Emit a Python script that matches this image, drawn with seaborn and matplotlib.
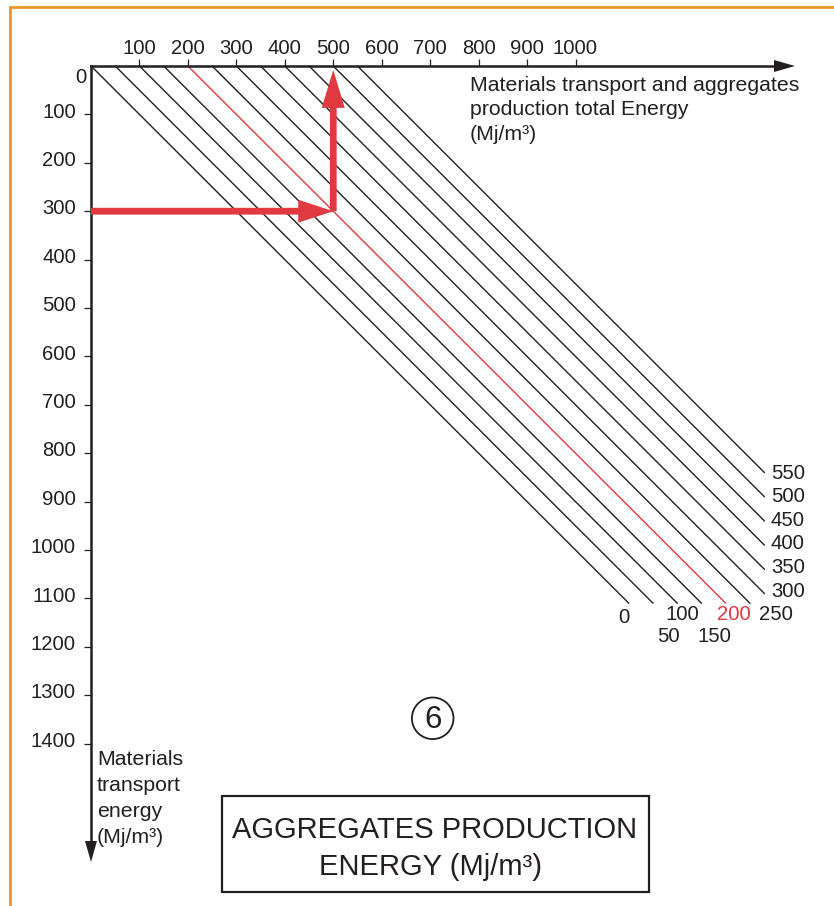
import numpy as np
import pandas as pd
import matplotlib
matplotlib.use("Agg")
import matplotlib.pyplot as plt
import matplotlib.transforms as mtransforms
from matplotlib.patches import Circle, Rectangle, Polygon
from matplotlib.lines import Line2D
import seaborn as sns

# ---------------- data ----------------
aggregate_energy = [0, 50, 100, 150, 200, 250, 300, 350, 400, 450, 500, 550]
highlight_aggregate = 200
total_ticks = [100, 200, 300, 400, 500, 600, 700, 800, 900, 1000]
transport_ticks = [100, 200, 300, 400, 500, 600, 700, 800, 900, 1000,
                   1100, 1200, 1300, 1400]
total_limit = 1390        # right limit of the nomogram lines
transport_limit = 1110    # lower limit of the nomogram lines
example_transport = 300
example_total = example_transport + highlight_aggregate

RED = "#E0393F"
BLACK = "#231F20"
ORANGE = "#E9962D"

sns.set_style("white")
plt.rcParams["font.family"] = ["Liberation Sans", "DejaVu Sans"]

W, H = 834, 906
fig = plt.figure(figsize=(W / 100, H / 100), dpi=100)
fig.patch.set_facecolor("white")
ax = fig.add_axes([0, 0, 1, 1])
ax.set_facecolor("white")

# pixel layout of the axes origin / scale
ox, oy = 91, 66
sx, sy = 0.4845, 0.4840
PT = 0.72  # px -> pt

# figure pixel transform (origin top-left)
pxT = mtransforms.Affine2D().scale(1 / W, -1 / H).translate(0, 1) + fig.transFigure

# ---------------- nomogram lines ----------------
rows = []
for a in aggregate_energy:
    y_end = min(transport_limit, total_limit - a)
    rows.append(dict(aggregate=a, total=a, transport=0))
    rows.append(dict(aggregate=a, total=a + y_end, transport=y_end))
df = pd.DataFrame(rows)
pal = {a: (RED if a == highlight_aggregate else BLACK) for a in aggregate_energy}
sns.lineplot(data=df, x="total", y="transport", hue="aggregate", units="aggregate",
             estimator=None, sort=False, palette=pal, legend=False,
             linewidth=1.0, ax=ax)

ax.set_xlim(-ox / sx, (W - ox) / sx)
ax.set_ylim((H - oy) / sy, -oy / sy)
ax.set_xlabel("")
ax.set_ylabel("")

# ---------------- axes (spines + ticks) ----------------
x_tip_px, y_tip_px = 795, 862
x_tip = (x_tip_px - ox) / sx
y_tip = (y_tip_px - oy) / sy
head_len_px = 21
for s in ["right", "bottom"]:
    ax.spines[s].set_visible(False)
ax.spines["top"].set_position(("data", 0))
ax.spines["left"].set_position(("data", 0))
ax.spines["top"].set_bounds(0, x_tip - head_len_px / sx)
ax.spines["left"].set_bounds(0, y_tip - head_len_px / sy)
for s in ["top", "left"]:
    ax.spines[s].set_linewidth(1.8)
    ax.spines[s].set_color(BLACK)
    ax.spines[s].set_capstyle("projecting")

ax.xaxis.set_ticks_position("top")
ax.yaxis.set_ticks_position("left")
ax.set_xticks(total_ticks)
ax.set_yticks(transport_ticks)
ax.tick_params(axis="x", direction="out", length=5, width=0.9, color=BLACK,
               labeltop=False, labelbottom=False, top=True, bottom=False)
ax.tick_params(axis="y", direction="out", length=5, width=0.9, color=BLACK,
               labelleft=False, labelright=False, left=True, right=False)
ax.grid(False)

# axis arrow heads
ax.add_patch(Polygon([[x_tip_px, oy], [x_tip_px - head_len_px, oy - 6],
                      [x_tip_px - head_len_px, oy + 6]], closed=True,
                     facecolor=BLACK, edgecolor="none", transform=pxT))
ax.add_patch(Polygon([[ox, y_tip_px], [ox - 6, y_tip_px - head_len_px],
                      [ox + 6, y_tip_px - head_len_px]], closed=True,
                     facecolor=BLACK, edgecolor="none", transform=pxT))

# tick labels
fs_num = 14.6
for v in total_ticks:
    ax.annotate(str(v), xy=(v, 0), xytext=(0, 12 * PT), textcoords="offset points",
                ha="center", va="baseline", fontsize=fs_num, color=BLACK)
for v in transport_ticks:
    ax.annotate(str(v), xy=(0, v), xytext=(-15 * PT, -3.3 * PT), textcoords="offset points",
                ha="right", va="baseline", fontsize=fs_num, color=BLACK)
ax.annotate("0", xy=(0, 0), xytext=(-5 * PT, -17 * PT), textcoords="offset points",
            ha="right", va="baseline", fontsize=fs_num, color=BLACK)

# ---------------- line end labels ----------------
right_dy = {550: -0.6, 500: -2.3, 450: -2.5, 400: -3.7, 350: -3.9, 300: -4.1}
bottom_off = {0: (-5.3, 19.3), 50: (15, 38.3), 100: (4.7, 16.3),
              150: (13, 38.3), 200: (7.8, 16.3), 250: (26.5, 16.3)}
for a in aggregate_energy:
    y_end = min(transport_limit, total_limit - a)
    x_end = a + y_end
    col = RED if a == highlight_aggregate else BLACK
    if a in right_dy:
        ax.annotate(str(a), xy=(x_end, y_end),
                    xytext=(6.5 * PT, -(right_dy[a] + 7.3) * PT),
                    textcoords="offset points", ha="left", va="baseline",
                    fontsize=fs_num, color=col)
    else:
        dx, dy = bottom_off[a]
        ax.annotate(str(a), xy=(x_end, y_end), xytext=(dx * PT, -dy * PT),
                    textcoords="offset points", ha="center", va="baseline",
                    fontsize=fs_num, color=col)

# ---------------- red example arrows ----------------
ax.arrow(0, example_transport, example_total, 0, width=6.8 / sy,
         head_width=23 / sy, head_length=35 / sx, length_includes_head=True,
         facecolor=RED, edgecolor="none", zorder=5)
ax.arrow(example_total, example_transport, 0, -(example_transport - 8),
         width=6.8 / sx, head_width=23 / sx, head_length=38 / sy,
         length_includes_head=True, facecolor=RED, edgecolor="none", zorder=5)

# ---------------- titles / annotations ----------------
fs_lab = 15.3
for txt, yb in [("Materials transport and aggregates", 90.7),
                ("production total Energy", 115.3),
                ("(Mj/m³)", 140.0)]:
    ax.text(470, yb, txt, transform=pxT, ha="left", va="baseline",
            fontsize=fs_lab, color=BLACK)
for txt, yb in [("Materials", 765), ("transport", 791), ("energy", 817),
                ("(Mj/m³)", 843)]:
    ax.text(97, yb, txt, transform=pxT, ha="left", va="baseline",
            fontsize=fs_lab, color=BLACK)

ax.add_patch(Circle((432.7, 718.3), 20.8, transform=pxT, facecolor="none",
                    edgecolor=BLACK, linewidth=1.3))
ax.text(432.7, 728.3, "6", transform=pxT, ha="center", va="baseline",
        fontsize=22.5, color=BLACK)

ax.add_patch(Rectangle((222, 796), 427, 96, transform=pxT, facecolor="none",
                       edgecolor=BLACK, linewidth=1.6))
ax.text(435, 838.3, "AGGREGATES PRODUCTION", transform=pxT, ha="center",
        va="baseline", fontsize=21, color=BLACK)
ax.text(431, 875, "ENERGY (Mj/m³)", transform=pxT, ha="center",
        va="baseline", fontsize=21, color=BLACK)

# orange page frame
ax.add_line(Line2D([10, W], [7, 7], transform=pxT, color=ORANGE, linewidth=2.0))
ax.add_line(Line2D([10, 10], [7, H], transform=pxT, color=ORANGE, linewidth=2.0))

fig.savefig("out.png", dpi=100, facecolor="white")
